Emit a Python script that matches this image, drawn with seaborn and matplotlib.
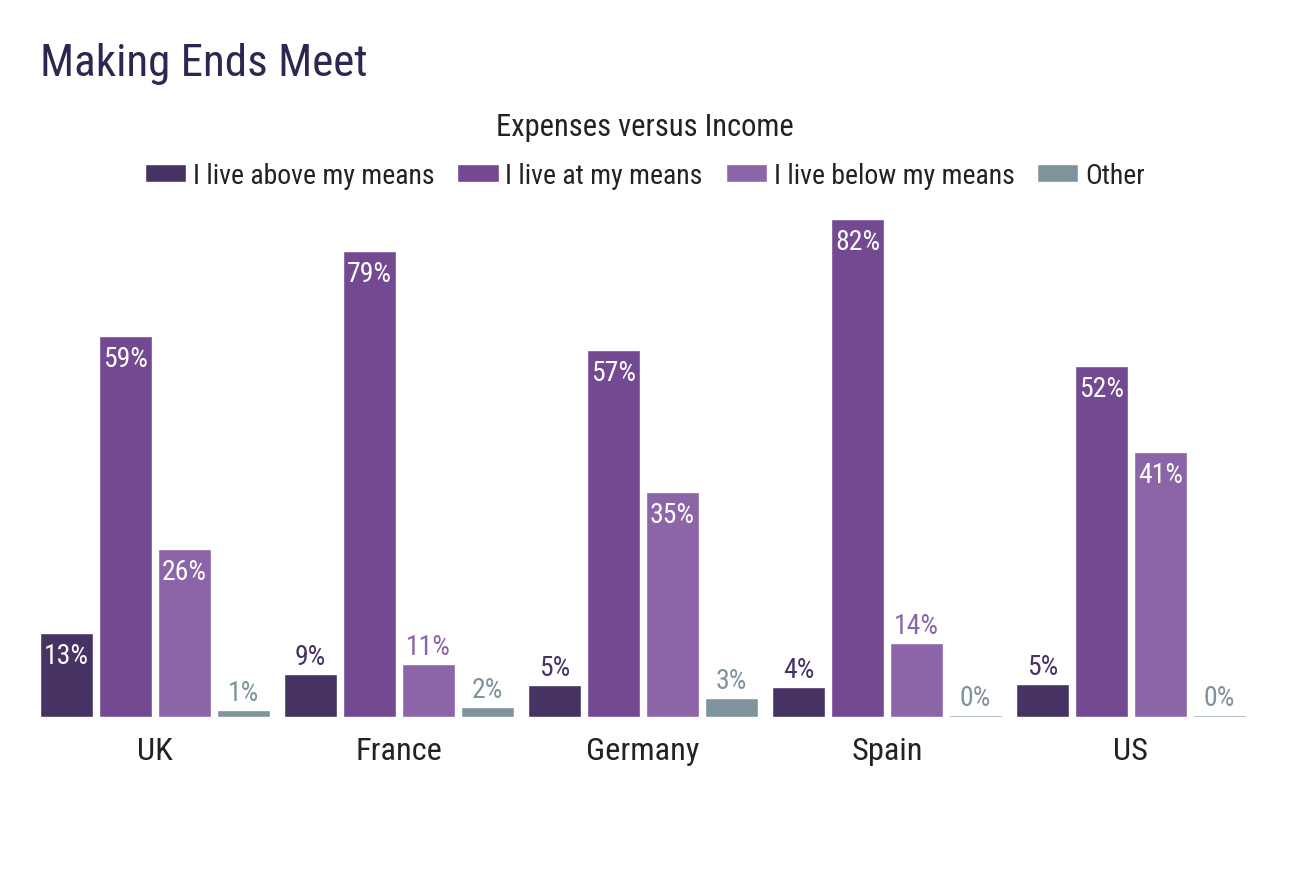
import matplotlib
matplotlib.use("Agg")
import matplotlib.pyplot as plt
from matplotlib import font_manager as fm
import seaborn as sns
import pandas as pd

countries = ["UK", "France", "Germany", "Spain", "US"]
series = ["I live above my means", "I live at my means", "I live below my means", "Other"]

# bar heights as drawn (percent scale) and the printed labels
above_h = [13.0, 6.7, 5.0, 4.65, 5.1]
at_h = [59.0, 72.2, 56.9, 77.2, 54.4]
below_h = [26.0, 8.2, 34.9, 11.4, 41.1]
other_h = [1.1, 1.5, 2.95, 0.3, 0.3]

above_lbl = ["13%", "9%", "5%", "4%", "5%"]
at_lbl = ["59%", "79%", "57%", "82%", "52%"]
below_lbl = ["26%", "11%", "35%", "14%", "41%"]
other_lbl = ["1%", "2%", "3%", "0%", "0%"]

colors = ["#473264", "#734a91", "#8c65a8", "#7e939c"]

heights = [above_h, at_h, below_h, other_h]
labels = [above_lbl, at_lbl, below_lbl, other_lbl]

rows = []
for s, hs in zip(series, heights):
    for c, h in zip(countries, hs):
        rows.append({"country": c, "series": s, "value": h})
df = pd.DataFrame(rows)

sns.set_theme(style="white")
names = {f.name for f in fm.fontManager.ttflist}
font = "Roboto Condensed" if "Roboto Condensed" in names else "Roboto"
plt.rcParams["font.family"] = [font, "DejaVu Sans"]

fig = plt.figure(figsize=(12.9, 8.78), dpi=100)
ax = fig.add_axes([0.0256, 0.1822, 0.9457, 0.5878])

sns.barplot(data=df, x="country", y="value", hue="series", palette=colors,
            hue_order=series, order=countries, width=0.967, gap=0.1,
            saturation=1, ax=ax, legend=True)

ax.set_ylim(0, 80)
ax.set_xlim(-0.5, 4.5)
sns.despine(ax=ax, left=True, bottom=True)
ax.set_yticks([])
ax.set_xlabel("")
ax.set_ylabel("")
ax.tick_params(axis="x", length=0, pad=14, labelsize=23.3, labelcolor="#222222")

for ci, cont in enumerate(ax.containers):
    for bar, lbl in zip(cont.patches, labels[ci]):
        h = bar.get_height()
        x = bar.get_x() + bar.get_width() / 2
        if h >= 12:
            ax.annotate(lbl, (x, h), xytext=(0, -21.6), textcoords="offset points",
                        ha="center", va="baseline", color="white", fontsize=20)
        else:
            ax.annotate(lbl, (x, h), xytext=(0, 7.2), textcoords="offset points",
                        ha="center", va="baseline", color=colors[ci], fontsize=20)

handles, hl = ax.get_legend_handles_labels()
ax.get_legend().remove()
fig.legend(handles, hl, loc="center", bbox_to_anchor=(0.5, 1 - 176 / 878), ncol=4,
           frameon=False, fontsize=20, handlelength=1.48, handleheight=0.61,
           handletextpad=0.25, columnspacing=0.82, labelcolor="#222222")

fig.text(40 / 1290, 1 - 64 / 878, "Making Ends Meet", fontsize=32.4, color="#2d2650",
         ha="left", va="center")
fig.text(0.5, 1 - 128 / 878, "Expenses versus Income", fontsize=22, color="#222222",
         ha="center", va="center")

fig.savefig("out.png", dpi=100)
